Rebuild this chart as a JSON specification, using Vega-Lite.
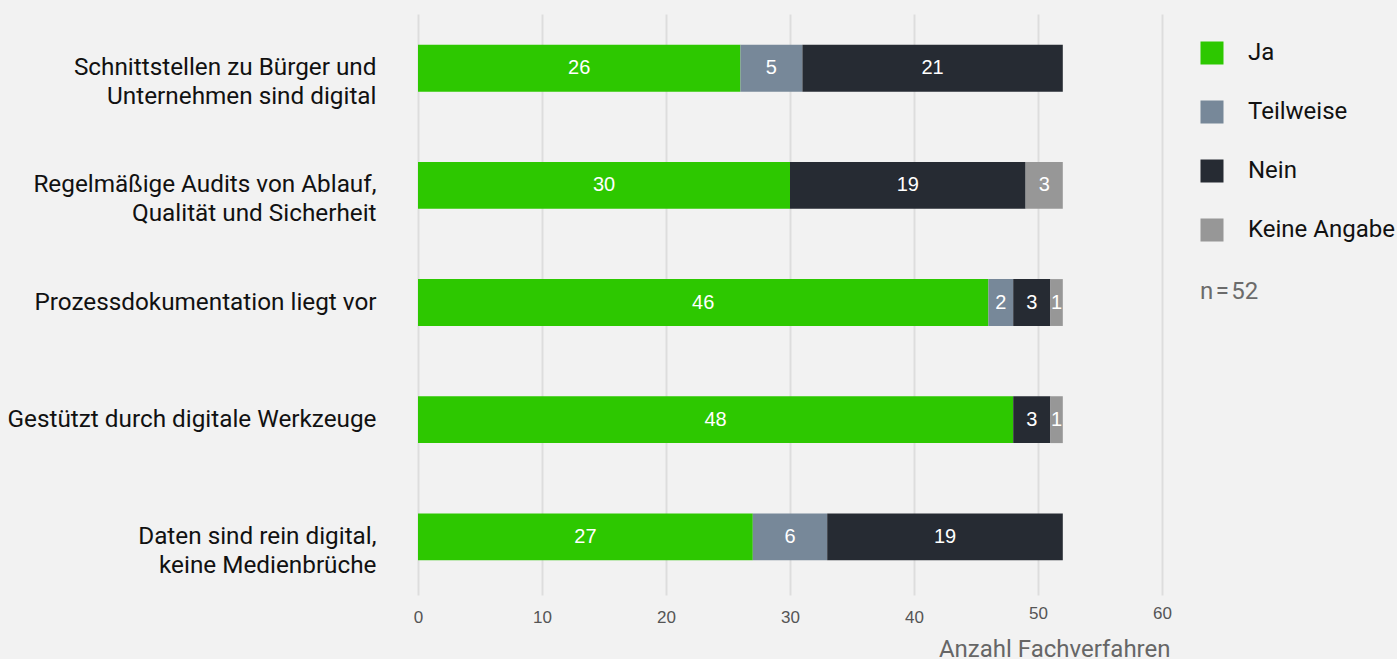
{
  "$schema": "https://vega.github.io/schema/vega-lite/v6.json",
  "width": 744,
  "height": 581,
  "autosize": {"type": "none"},
  "padding": {"left": 418, "top": 14, "right": 235, "bottom": 64},
  "background": "#f2f2f2",
  "config": {
    "view": {"stroke": null},
    "font": "Roboto"
  },
  "data": {
    "values": [
      {"item": "Schnittstellen zu Bürger und|Unternehmen sind digital", "answer": "Ja", "count": 26},
      {"item": "Schnittstellen zu Bürger und|Unternehmen sind digital", "answer": "Teilweise", "count": 5},
      {"item": "Schnittstellen zu Bürger und|Unternehmen sind digital", "answer": "Nein", "count": 21},
      {"item": "Regelmäßige Audits von Ablauf,|Qualität und Sicherheit", "answer": "Ja", "count": 30},
      {"item": "Regelmäßige Audits von Ablauf,|Qualität und Sicherheit", "answer": "Nein", "count": 19},
      {"item": "Regelmäßige Audits von Ablauf,|Qualität und Sicherheit", "answer": "Keine Angabe", "count": 3},
      {"item": "Prozessdokumentation liegt vor", "answer": "Ja", "count": 46},
      {"item": "Prozessdokumentation liegt vor", "answer": "Teilweise", "count": 2},
      {"item": "Prozessdokumentation liegt vor", "answer": "Nein", "count": 3},
      {"item": "Prozessdokumentation liegt vor", "answer": "Keine Angabe", "count": 1},
      {"item": "Gestützt durch digitale Werkzeuge", "answer": "Ja", "count": 48},
      {"item": "Gestützt durch digitale Werkzeuge", "answer": "Nein", "count": 3},
      {"item": "Gestützt durch digitale Werkzeuge", "answer": "Keine Angabe", "count": 1},
      {"item": "Daten sind rein digital,|keine Medienbrüche", "answer": "Ja", "count": 27},
      {"item": "Daten sind rein digital,|keine Medienbrüche", "answer": "Teilweise", "count": 6},
      {"item": "Daten sind rein digital,|keine Medienbrüche", "answer": "Nein", "count": 19}
    ]
  },
  "transform": [
    {"calculate": "indexof(['Ja','Teilweise','Nein','Keine Angabe'], datum.answer)", "as": "k"},
    {"stack": "count", "groupby": ["item"], "sort": [{"field": "k", "order": "ascending"}], "as": ["x0", "x1"]},
    {"calculate": "(datum.x0 + datum.x1) / 2", "as": "xm"}
  ],
  "encoding": {
    "y": {
      "field": "item",
      "type": "nominal",
      "sort": null,
      "title": null,
      "scale": {"paddingInner": 0.6, "paddingOuter": 0.28, "align": 0.47},
      "axis": {
        "domain": false,
        "ticks": false,
        "grid": false,
        "labelExpr": "split(datum.label, '|')",
        "labelFont": "Roboto",
        "labelFontSize": 24.3,
        "labelColor": "#111111",
        "labelLineHeight": 29,
        "labelPadding": 42,
        "labelLimit": 500
      }
    }
  },
  "layer": [
    {
      "mark": {"type": "bar"},
      "encoding": {
        "x": {
          "field": "x0",
          "type": "quantitative",
          "scale": {"domain": [0, 60], "nice": false},
          "title": "Anzahl Fachverfahren",
          "axis": {
            "values": [0, 10, 20, 30, 40, 50, 60],
            "domain": false,
            "ticks": false,
            "grid": true,
            "gridColor": "#dddddd",
            "gridWidth": 2,
            "labelFlush": false,
            "labelFont": "Liberation Sans",
            "labelFontSize": 17,
            "labelColor": "#555555",
            "labelPadding": {"condition": {"test": "datum.value >= 50", "value": 10}, "value": 14},
            "titleFont": "Roboto",
            "titleFontSize": 24,
            "titleFontWeight": "normal",
            "titleColor": "#666666",
            "titleAnchor": "end",
            "titleAlign": "right",
            "titleBaseline": "alphabetic",
            "titleX": 752,
            "titleY": 61
          }
        },
        "x2": {"field": "x1"},
        "color": {
          "field": "answer",
          "type": "nominal",
          "scale": {
            "domain": ["Ja", "Teilweise", "Nein", "Keine Angabe"],
            "range": ["#2dc800", "#778899", "#262b33", "#979797"]
          },
          "legend": {
            "title": "n\u200a=\u200a52",
            "orient": "none",
            "legendX": 782,
            "legendY": 27,
            "padding": 0,
            "symbolType": "square",
            "symbolSize": 529,
            "symbolStrokeWidth": 0,
            "symbolOpacity": 1,
            "labelOffset": 24,
            "rowPadding": 35,
            "labelFont": "Roboto",
            "labelFontSize": 24,
            "labelColor": "#111111",
            "labelLimit": 300,
            "titleOrient": "bottom",
            "titlePadding": 38,
            "titleFont": "Roboto",
            "titleFontSize": 24,
            "titleFontWeight": "normal",
            "titleColor": "#6b6b6b"
          }
        }
      }
    },
    {
      "mark": {"type": "text", "color": "white", "font": "Liberation Sans", "fontSize": 20, "baseline": "middle", "align": "center"},
      "encoding": {
        "x": {"field": "xm", "type": "quantitative"},
        "text": {"field": "count", "type": "quantitative"}
      }
    }
  ]
}
